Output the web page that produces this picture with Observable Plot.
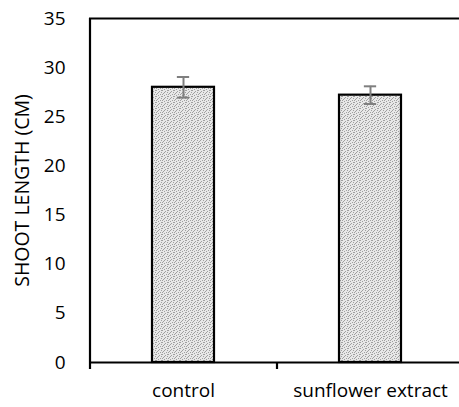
<!DOCTYPE html>
<html>
<head>
<meta charset="utf-8">
<script src="https://cdn.jsdelivr.net/npm/d3@7"></script>
<script src="https://cdn.jsdelivr.net/npm/@observablehq/plot@0.6"></script>
<style>
  html, body { margin: 0; padding: 0; background: #fff; }
  svg { display: block; }
</style>
</head>
<body>
<div id="chart"></div>
<script>
const categories = ["control", "sunflower extract"];
const values = [28.0, 27.2];
const errors = [1.05, 0.9];
const yTicks = [0, 5, 10, 15, 20, 25, 30, 35];
const yLabel = "SHOOT LENGTH (CM)";

const data = categories.map((c, i) => ({cat: c, v: values[i], lo: values[i] - errors[i], hi: values[i] + errors[i]}));

const W = 459, H = 407;
const xRange = [89, 463];
const step = (xRange[1] - xRange[0]) / categories.length;
const padInner = 0.67;
const bandwidth = step * (1 - padInner);
const capHalf = 6;
const font = "'Open Sans', sans-serif";

const plot = Plot.plot({
  width: W,
  height: H,
  marginTop: 18,
  marginBottom: 45,
  marginLeft: 89,
  marginRight: 0,
  style: {fontFamily: font, fontSize: "19px", color: "#000", background: "#fff", overflow: "visible"},
  x: {domain: categories, range: xRange, paddingInner: padInner, paddingOuter: padInner / 2},
  y: {domain: [0, 35], ticks: yTicks},
  marks: [
    Plot.barY(data, {x: "cat", y: "v", fill: "url(#stipple)", stroke: "#000", strokeWidth: 2.2}),
    Plot.ruleX(data, {x: "cat", y1: "lo", y2: "hi", stroke: "#7f7f7f", strokeWidth: 2}),
    Plot.tickY(data, {x: "cat", y: "lo", stroke: "#7f7f7f", strokeWidth: 2, insetLeft: bandwidth / 2 - capHalf, insetRight: bandwidth / 2 - capHalf}),
    Plot.tickY(data, {x: "cat", y: "hi", stroke: "#7f7f7f", strokeWidth: 2, insetLeft: bandwidth / 2 - capHalf, insetRight: bandwidth / 2 - capHalf}),
    Plot.ruleY([35], {stroke: "#000", strokeWidth: 2.2}),
    Plot.ruleY([0], {stroke: "#000", strokeWidth: 2.2}),
    Plot.ruleX([categories[0]], {x: d => d, y1: 0, y2: 35, dx: -step / 2, stroke: "#000", strokeWidth: 2.2}),
    Plot.axisY({ticks: yTicks, tickSize: 0, tickPadding: 24, fontSize: 19, label: null}),
    Plot.axisX({tickSize: 7, tickPadding: 0, text: null, dx: -step / 2, strokeWidth: 2.2, label: null}),
    Plot.axisX({tickSize: 0, tickPadding: 21, label: null, fontSize: 19}),
    Plot.text([yLabel], {text: d => d, frameAnchor: "left", rotate: -90, dx: -67, textAnchor: "middle", lineAnchor: "middle", fontSize: 19.5, fill: "#000"})
  ]
});

// stipple pattern for bars
const ns = "http://www.w3.org/2000/svg";
const defs = document.createElementNS(ns, "defs");
const pat = document.createElementNS(ns, "pattern");
pat.setAttribute("id", "stipple");
pat.setAttribute("patternUnits", "userSpaceOnUse");
pat.setAttribute("width", 6);
pat.setAttribute("height", 6);
const bg = document.createElementNS(ns, "rect");
bg.setAttribute("width", 6); bg.setAttribute("height", 6); bg.setAttribute("fill", "#e8e8e8");
pat.appendChild(bg);
const dots = [[0,0],[3,1],[5,2],[1,3],[4,4],[2,5],[0,4],[5,0],[2,2]];
for (const [dx, dy] of dots) {
  const r = document.createElementNS(ns, "rect");
  r.setAttribute("x", dx); r.setAttribute("y", dy);
  r.setAttribute("width", 1); r.setAttribute("height", 1);
  r.setAttribute("fill", "#a0a0a0");
  pat.appendChild(r);
}
defs.appendChild(pat);
plot.insertBefore(defs, plot.firstChild);

document.getElementById("chart").appendChild(plot);
</script>
</body>
</html>
